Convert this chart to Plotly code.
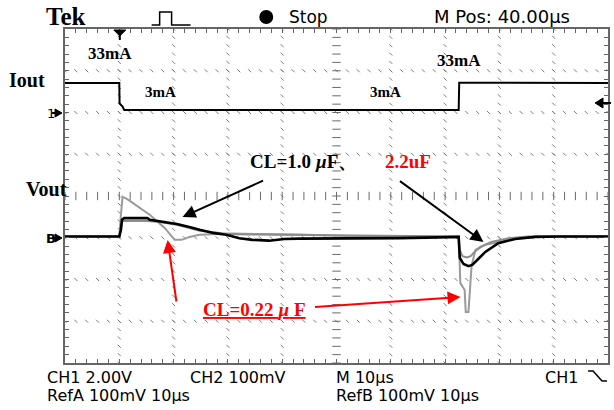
import numpy as np
import plotly.graph_objects as go

# ---------------- data ----------------
# time base 10 us/div, 10 divisions -> 0..100 us
iout_t = [0.0, 10.0, 10.05, 10.6, 10.9, 72.5, 72.6, 100.0]
iout_v = [1.41, 1.41, 0.44, 0.28, 0.12, 0.12, 1.43, 1.41]          # CH1, volts

ch2_t = [0, 10.0, 10.3, 10.5, 10.9, 15.2, 15.6, 17.4, 20.6, 22.9, 24.8, 27.5, 29.7,
         32.1, 34.5, 37.6, 40.4, 43.1, 52.3, 61.5, 68.8, 72.5, 72.7, 73.4, 74.3,
         75.0, 76.1, 77.4, 79.8, 82.9, 86.6, 90.8, 100]
ch2_mv = [0, 0, 16, 40, 44, 44, 40, 37, 30, 23, 16, 8, 4, -4, -8, -10, -6, -5, -5,
          -4, -2, -1, -51, -66, -71, -68, -54, -37, -16, -6, -1, 0, 0]      # CH2 (black)

refa_t = [0, 10.0, 10.3, 10.6, 15.2, 17.4, 20.6, 22.9, 24.8, 27.5, 29.7, 33.9, 43.1,
          61.5, 72.5, 72.7, 73.2, 74.0, 74.7, 75.4, 76.5, 78.5, 81.7, 85.3, 100]
refa_mv = [0, 0, 28, 37, 37, 35, 28, 20, 14, 10, 6, 5, 4, 1, 0, -32, -47, -50, -47,
           -37, -25, -13, -4, 0, 0]                                           # RefA (gray)

refb_t = [0, 10.0, 10.3, 10.6, 11.4, 15.6, 18.4, 20.2, 21.5, 22.9, 24.8, 30.3, 35.8,
          43.1, 52.3, 61.5, 72.5, 72.7, 72.8, 73.6, 73.8, 74.3, 74.5, 74.7, 74.9,
          75.6, 77.4, 79.8, 83.5, 87.2, 100]
refb_mv = [0, 0, 52, 95, 90, 52, 20, -8, -8, -1, 4, 7, 6, 5, 1, 0, 0, -68, -111, -128,
           -181, -181, -128, -104, -68, -32, -20, -13, -4, 0, 0]             # RefB (gray, 0.22uF)

CH1_VDIV, CH1_POS = 2.0, 6.0       # V/div, marker position (div)
V_MVDIV, V_POS = 100.0, 3.03       # mV/div, marker position (div)

top_labels = ["Stop", "M Pos: 40.00µs"]
bottom_row1 = [("CH1 2.00V", 45), ("CH2 100mV", 188), ("M 10µs", 335), ("CH1", 545)]
bottom_row2 = [("RefA 100mV 10µs", 45), ("RefB 100mV 10µs", 335)]

# ---------------- geometry helpers ----------------
W, H = 614, 410
PL, PR, PT, PB = 65, 610, 29, 363


def px(x):
    return (x - PL) / (PR - PL)


def py(y):
    return (PB - y) / (PB - PT)


fig = go.Figure()

# graticule dots
gx, gy = [], []
for yy in range(1, 8):
    if yy == 4:
        continue
    for xx in np.arange(0, 100.01, 2):
        gx.append(xx); gy.append(yy)
for xx in range(10, 100, 10):
    if xx == 50:
        continue
    for yy in np.arange(0, 8.01, 0.2):
        gx.append(xx); gy.append(yy)
fig.add_trace(go.Scatter(x=gx, y=gy, mode="markers", hoverinfo="skip",
                         marker=dict(symbol="line-nw", size=3, color="#7a7a7a",
                                     line=dict(width=1, color="#7a7a7a"))))
cx = np.arange(0, 100.01, 2)
fig.add_trace(go.Scatter(x=cx, y=[4] * len(cx), mode="markers", hoverinfo="skip",
                         marker=dict(symbol="line-ns", size=6, color="#6a6a6a",
                                     line=dict(width=1, color="#6a6a6a"))))
cy = np.arange(0, 8.01, 0.2)
fig.add_trace(go.Scatter(x=[50] * len(cy), y=cy, mode="markers", hoverinfo="skip",
                         marker=dict(symbol="line-ew", size=6, color="#6a6a6a",
                                     line=dict(width=1, color="#6a6a6a"))))

# waveforms
fig.add_trace(go.Scatter(x=refb_t, y=[V_POS + v / V_MVDIV for v in refb_mv], mode="lines",
                         line=dict(color="#9a9a9a", width=2)))
fig.add_trace(go.Scatter(x=refa_t, y=[V_POS + v / V_MVDIV for v in refa_mv], mode="lines",
                         line=dict(color="#8c8c8c", width=2)))
fig.add_trace(go.Scatter(x=ch2_t, y=[V_POS + v / V_MVDIV for v in ch2_mv], mode="lines",
                         line=dict(color="#000000", width=2.6)))
fig.add_trace(go.Scatter(x=iout_t, y=[CH1_POS + v / CH1_VDIV for v in iout_v], mode="lines",
                         line=dict(color="#000000", width=2)))

ann = []
SANS = "DejaVu Sans"
SERIF = "Liberation Serif"


def txt(s, x, y, size, family=SANS, color="black", xanchor="left"):
    ann.append(dict(text=s, x=px(x), y=py(y), xref="paper", yref="paper", showarrow=False,
                    xanchor=xanchor, yanchor="middle", font=dict(size=size, family=family, color=color)))


txt("<b>Tek</b>", 44, 17, 25, SERIF)
txt(top_labels[0], 288, 17, 17)
txt(top_labels[1], 433, 17, 18)
for s, x in bottom_row1:
    txt(s, x, 377, 16)
for s, x in bottom_row2:
    txt(s, x, 395, 16)

txt("<b>Iout</b>", 7, 80, 20, SERIF)
txt("<b>Vout</b>", 24, 189, 20, SERIF)
txt("<b>33mA</b>", 86, 54, 17, SERIF)
txt("<b>33mA</b>", 436, 60, 17, SERIF)
txt("<b>3mA</b>", 143, 92, 15, SERIF)
txt("<b>3mA</b>", 369, 92, 15, SERIF)
txt("1", 45, 113, 13, SANS)
txt("<b>B</b>", 44, 238, 13, SANS)
txt("<b>CL=1.0 <i>µ</i>F、</b>", 249, 161, 19, SERIF)
txt("<b>2.2uF</b>", 384, 161, 19, SERIF, color="#ff0000")
txt("<b><u>CL=0.22 <i>µ</i> F</u></b>", 201, 309, 19, SERIF, color="#ff0000")


def arrow(tail, head, color):
    ann.append(dict(text="", x=px(head[0]), y=py(head[1]), xref="paper", yref="paper",
                    ax=tail[0] - head[0], ay=tail[1] - head[1], axref="pixel", ayref="pixel",
                    showarrow=True, arrowhead=2, arrowsize=1.3, arrowwidth=2, arrowcolor=color))


arrow((265, 180), (183, 217), "black")
arrow((400, 180), (485, 242), "black")
arrow((177, 303), (168, 240), "#ff0000")
arrow((315, 307), (462, 297), "#ff0000")

shapes = []


def path(pts, fill=None, width=1.5, color="black"):
    d = "M " + " L ".join(f"{px(a):.5f},{py(b):.5f}" for a, b in pts)
    if fill:
        d += " Z"
    shapes.append(dict(type="path", path=d, xref="paper", yref="paper",
                       line=dict(color=color, width=width),
                       fillcolor=fill if fill else "rgba(0,0,0,0)"))


# pulse icon
path([(152, 25), (160, 25), (160, 12), (172, 12), (172, 25), (191, 25)], width=1.5)
# stop dot
shapes.append(dict(type="circle", xref="paper", yref="paper", x0=px(260), x1=px(274),
                   y0=py(24), y1=py(10), fillcolor="black", line=dict(width=0)))
# trigger position marker
path([(114, 30), (126, 30), (120, 36)], fill="black", width=1)
path([(120, 30), (120, 40)], width=2)
# trigger level marker (right)
path([(597, 103), (605, 98), (605, 108)], fill="black", width=1)
path([(603, 103), (613, 103)], width=2)
# channel markers (left)
path([(55, 109), (62, 113), (55, 117)], fill="black", width=1)
path([(52, 113), (58, 113)], width=2)
path([(55, 234), (62, 238), (55, 242)], fill="black", width=1)
path([(52, 238), (58, 238)], width=2)
# falling slope icon
path([(590, 371), (595, 371), (604, 381), (609, 381)], width=1.5)

fig.update_layout(
    width=W, height=H, margin=dict(l=PL, r=W - PR, t=PT, b=H - PB),
    paper_bgcolor="white", plot_bgcolor="white", showlegend=False,
    annotations=ann, shapes=shapes,
    xaxis=dict(range=[0, 100], showgrid=False, zeroline=False, showticklabels=False,
               ticks="inside", tick0=0, dtick=2, ticklen=4, tickcolor="#666",
               showline=True, linecolor="#666", linewidth=2, mirror="allticks", fixedrange=True),
    yaxis=dict(range=[0, 8], showgrid=False, zeroline=False, showticklabels=False,
               ticks="inside", tick0=0, dtick=0.2, ticklen=4, tickcolor="#666",
               showline=True, linecolor="#666", linewidth=2, mirror="allticks", fixedrange=True),
)

fig.write_html("out.html", config={"displayModeBar": False},
               post_script="document.body.style.margin='0';document.body.style.overflow='hidden';")
